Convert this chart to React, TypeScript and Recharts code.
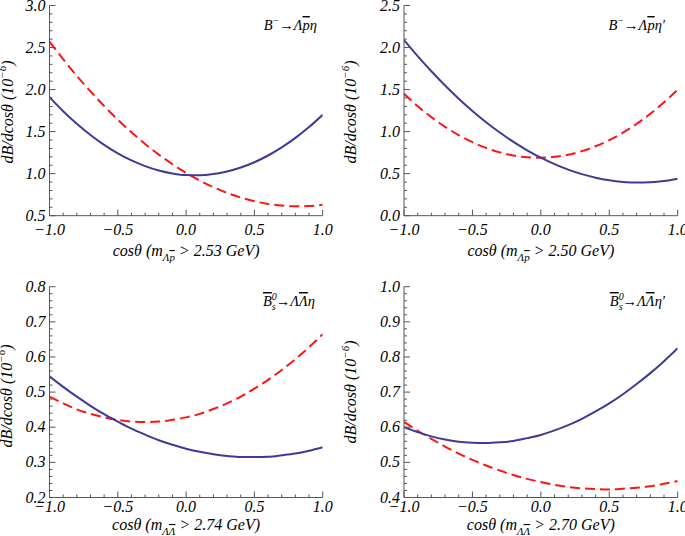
import React from 'react';
import { LineChart, Line, XAxis, YAxis, Label } from 'recharts';

// ---------- data ----------
const cosTheta = [-1.0, -0.9, -0.8, -0.7, -0.6, -0.5, -0.4, -0.3, -0.2, -0.1, 0.0, 0.1, 0.2, 0.3, 0.4, 0.5, 0.6, 0.7, 0.8, 0.9, 1.0];

const bmLapEtaSolid = [1.910, 1.743, 1.593, 1.459, 1.342, 1.241, 1.157, 1.089, 1.037, 1.002, 0.983, 0.981, 0.995, 1.026, 1.073, 1.136, 1.216, 1.312, 1.425, 1.554, 1.700];
const bmLapEtaDashed = [2.570, 2.361, 2.163, 1.978, 1.804, 1.642, 1.492, 1.353, 1.227, 1.112, 1.009, 0.918, 0.839, 0.771, 0.716, 0.672, 0.640, 0.620, 0.611, 0.615, 0.630];

const bmLapEtapSolid = [2.090, 1.898, 1.718, 1.549, 1.392, 1.246, 1.112, 0.989, 0.878, 0.778, 0.690, 0.613, 0.548, 0.494, 0.452, 0.421, 0.402, 0.394, 0.398, 0.413, 0.440];
const bmLapEtapDashed = [1.450, 1.303, 1.172, 1.057, 0.958, 0.874, 0.806, 0.753, 0.716, 0.695, 0.690, 0.700, 0.726, 0.768, 0.826, 0.899, 0.988, 1.092, 1.212, 1.348, 1.500];

const bsLLEtaSolid = [0.545, 0.515, 0.487, 0.461, 0.437, 0.416, 0.396, 0.379, 0.363, 0.350, 0.339, 0.330, 0.323, 0.318, 0.315, 0.315, 0.316, 0.320, 0.325, 0.333, 0.343];
const bsLLEtaDashed = [0.487, 0.468, 0.451, 0.438, 0.428, 0.421, 0.416, 0.415, 0.416, 0.421, 0.428, 0.438, 0.452, 0.468, 0.487, 0.510, 0.535, 0.563, 0.594, 0.628, 0.665];

const bsLLEtapSolid = [0.600, 0.586, 0.574, 0.565, 0.559, 0.556, 0.555, 0.557, 0.561, 0.569, 0.578, 0.591, 0.606, 0.624, 0.645, 0.668, 0.694, 0.723, 0.754, 0.788, 0.825];
const bsLLEtapDashed = [0.615, 0.590, 0.567, 0.545, 0.525, 0.507, 0.491, 0.477, 0.464, 0.453, 0.444, 0.436, 0.430, 0.426, 0.424, 0.423, 0.425, 0.428, 0.432, 0.439, 0.447];

const xMajorTicks = [-1.0, -0.5, 0.0, 0.5, 1.0];
const yMajorTicks1 = [0.5, 1.0, 1.5, 2.0, 2.5, 3.0];
const yMajorTicks2 = [0.0, 0.5, 1.0, 1.5, 2.0, 2.5];
const yMajorTicks3 = [0.2, 0.3, 0.4, 0.5, 0.6, 0.7, 0.8];
const yMajorTicks4 = [0.4, 0.5, 0.6, 0.7, 0.8, 0.9, 1.0];

const massCuts = ['2.53', '2.50', '2.74', '2.70'];

// ---------- styles ----------
const FONT = "'Liberation Serif', Tinos, 'Times New Roman', serif";
const FRAME = '#555555';
const BLUE = '#3d3b98';
const RED = '#ff1414';
const INK = '#000000';
const txt = { fontFamily: FONT, fontStyle: 'italic' as const };
const bar = { textDecoration: 'overline' };

const range = (a: number, b: number, step: number) => {
  const out: number[] = [];
  const n = Math.round((b - a) / step);
  for (let i = 0; i <= n; i++) out.push(Math.round((a + i * step) * 1000) / 1000);
  return out;
};

const fmt = (v: number) => (v < 0 ? '\u2212' + Math.abs(v).toFixed(1) : v.toFixed(1));

type Side = 'bottom' | 'top' | 'left' | 'right';
const tickRenderer = (side: Side, majors: number[], labelDy = 19) => (props: any) => {
  const { x, y, payload } = props;
  const v = Number(payload.value);
  const major = majors.some((m) => Math.abs(m - v) < 1e-6);
  const len = major ? 6 : 3;
  let x2 = x;
  let y2 = y;
  if (side === 'bottom') y2 = y - len;
  else if (side === 'top') y2 = y + len;
  else if (side === 'left') x2 = x + len;
  else x2 = x - len;
  return (
    <g>
      <line x1={x} y1={y} x2={x2} y2={y2} stroke={FRAME} strokeWidth={1} />
      {major && side === 'bottom' && (
        <text x={x} y={y + labelDy} textAnchor="middle" style={{ ...txt, fontSize: 16 }} fill={INK}>
          {fmt(v)}
        </text>
      )}
      {major && side === 'left' && (
        <text x={x - 4} y={y + 5} textAnchor="end" style={{ ...txt, fontSize: 16 }} fill={INK}>
          {fmt(v)}
        </text>
      )}
    </g>
  );
};

type PanelCfg = {
  left: number;
  top: number;
  width: number;
  height: number;
  margin: { top: number; right: number; bottom: number; left: number };
  xAxisH: number;
  tickDy: number;
  yDomain: [number, number];
  yMajor: number[];
  yStep: number;
  solid: number[];
  dashed: number[];
  cut: string;
  lambdaBar: boolean;
  bs: boolean;
  prime: boolean;
  ylab: { x: number; y: number };
  xlabY: number;
  note: { x: number; y: number };
};

const panels: PanelCfg[] = [
  {
    left: 0, top: 0, width: 340, height: 268,
    margin: { top: 5.5, right: 17.3, bottom: 12.3, left: 4.5 }, xAxisH: 40, tickDy: 19,
    yDomain: [0.5, 3.0], yMajor: yMajorTicks1, yStep: 0.1,
    solid: bmLapEtaSolid, dashed: bmLapEtaDashed, cut: massCuts[0],
    lambdaBar: false, bs: false, prime: false,
    ylab: { x: 13, y: 112 }, xlabY: 256, note: { x: 317, y: 30 },
  },
  {
    left: 340, top: 0, width: 345, height: 268,
    margin: { top: 5.5, right: 7.3, bottom: 12.3, left: 19 }, xAxisH: 40, tickDy: 19,
    yDomain: [0.0, 2.5], yMajor: yMajorTicks2, yStep: 0.1,
    solid: bmLapEtapSolid, dashed: bmLapEtapDashed, cut: massCuts[1],
    lambdaBar: false, bs: false, prime: true,
    ylab: { x: 16, y: 112 }, xlabY: 256, note: { x: 325, y: 30 },
  },
  {
    left: 0, top: 268, width: 340, height: 268,
    margin: { top: 18.7, right: 17.3, bottom: 8.5, left: 4.5 }, xAxisH: 30, tickDy: 14,
    yDomain: [0.2, 0.8], yMajor: yMajorTicks3, yStep: 0.02,
    solid: bsLLEtaSolid, dashed: bsLLEtaDashed, cut: massCuts[2],
    lambdaBar: true, bs: true, prime: false,
    ylab: { x: 12, y: 128 }, xlabY: 262, note: { x: 315, y: 38 },
  },
  {
    left: 340, top: 268, width: 345, height: 268,
    margin: { top: 18.7, right: 7.3, bottom: 8.5, left: 19 }, xAxisH: 30, tickDy: 14,
    yDomain: [0.4, 1.0], yMajor: yMajorTicks4, yStep: 0.02,
    solid: bsLLEtapSolid, dashed: bsLLEtapDashed, cut: massCuts[3],
    lambdaBar: true, bs: true, prime: true,
    ylab: { x: 16, y: 124 }, xlabY: 262, note: { x: 325, y: 38 },
  },
];

const Panel = ({ cfg }: { cfg: PanelCfg }) => {
  const data = cosTheta.map((c, i) => ({ c, solid: cfg.solid[i], dashed: cfg.dashed[i] }));
  const xTicks = range(-1, 1, 0.1);
  const yTicks = range(cfg.yDomain[0], cfg.yDomain[1], cfg.yStep);
  const plotCx = cfg.margin.left + 45 + (cfg.width - cfg.margin.left - 45 - cfg.margin.right) / 2;
  const primeMark = cfg.prime ? '\u2032' : '';

  const yTitleAndNote = () => (
    <g>
      <text
        transform={`translate(${cfg.ylab.x},${cfg.ylab.y}) rotate(-90)`}
        textAnchor="middle"
        style={{ ...txt, fontSize: 16 }}
        fill={INK}
      >
        dB/dcosθ (10
        <tspan dy={-7} style={{ fontSize: 11 }}>{'\u2212'}6</tspan>
        <tspan dy={7}>)</tspan>
      </text>
      <text x={cfg.note.x} y={cfg.note.y} textAnchor="end" style={{ ...txt, fontSize: 14.5 }} fill={INK}>
        {cfg.bs ? (
          <>
            <tspan style={bar}>B</tspan>
            <tspan dy={-6} style={{ fontSize: 10 }}>0</tspan>
            <tspan dx={-5} dy={10} style={{ fontSize: 10 }}>s</tspan>
            <tspan dy={-4}>{'\u2192\u039B'}</tspan>
            <tspan style={bar}>{'\u039B'}</tspan>
            <tspan>{'\u03B7' + primeMark}</tspan>
          </>
        ) : (
          <>
            <tspan>B</tspan>
            <tspan dy={-6} style={{ fontSize: 10 }}>{'\u2212'}</tspan>
            <tspan dy={6}>{'\u2192\u039B'}</tspan>
            <tspan style={bar}>p</tspan>
            <tspan>{'\u03B7' + primeMark}</tspan>
          </>
        )}
      </text>
    </g>
  );

  const xTitle = () => (
    <text x={plotCx} y={cfg.xlabY} textAnchor="middle" style={{ ...txt, fontSize: 16 }} fill={INK}>
      cosθ (m
      <tspan dy={5} style={{ fontSize: 11 }}>{'\u039B'}</tspan>
      <tspan style={{ ...bar, fontSize: 11 }}>{cfg.lambdaBar ? '\u039B' : 'p'}</tspan>
      <tspan dy={-5}>{` > ${cfg.cut} GeV)`}</tspan>
    </text>
  );

  return (
    <div style={{ position: 'absolute', left: cfg.left, top: cfg.top, width: cfg.width, height: cfg.height }}>
      <LineChart width={cfg.width} height={cfg.height} data={data} margin={cfg.margin}>
        <XAxis
          dataKey="c"
          type="number"
          domain={[-1, 1]}
          ticks={xTicks}
          interval={0}
          height={cfg.xAxisH}
          tickSize={0}
          tickMargin={0}
          tickLine={false}
          axisLine={{ stroke: FRAME, strokeWidth: 1 }}
          tick={tickRenderer('bottom', xMajorTicks, cfg.tickDy)}
          allowDataOverflow
        >
          <Label content={xTitle} />
        </XAxis>
        <XAxis
          xAxisId="top"
          dataKey="c"
          type="number"
          orientation="top"
          domain={[-1, 1]}
          ticks={xTicks}
          interval={0}
          height={0}
          tickSize={0}
          tickMargin={0}
          tickLine={false}
          axisLine={{ stroke: FRAME, strokeWidth: 1 }}
          tick={tickRenderer('top', xMajorTicks)}
          allowDataOverflow
        />
        <YAxis
          type="number"
          domain={cfg.yDomain}
          ticks={yTicks}
          interval={0}
          width={45}
          tickSize={0}
          tickMargin={0}
          tickLine={false}
          axisLine={{ stroke: FRAME, strokeWidth: 1 }}
          tick={tickRenderer('left', cfg.yMajor)}
          allowDataOverflow
        >
          <Label content={yTitleAndNote} />
        </YAxis>
        <YAxis
          yAxisId="right"
          orientation="right"
          type="number"
          domain={cfg.yDomain}
          ticks={yTicks}
          interval={0}
          width={0}
          tickSize={0}
          tickMargin={0}
          tickLine={false}
          axisLine={{ stroke: FRAME, strokeWidth: 1 }}
          tick={tickRenderer('right', cfg.yMajor)}
          allowDataOverflow
        />
        <Line
          type="monotone"
          dataKey="dashed"
          stroke={RED}
          strokeWidth={2}
          strokeDasharray="10 5"
          dot={false}
          isAnimationActive={false}
        />
        <Line
          type="monotone"
          dataKey="solid"
          stroke={BLUE}
          strokeWidth={2}
          dot={false}
          isAnimationActive={false}
        />
      </LineChart>
    </div>
  );
}

export default function App() {
  return (
    <div style={{ position: 'absolute', left: 0, top: 0, width: 685, height: 536, background: '#ffffff', overflow: 'hidden' }}>
      {panels.map((p, i) => (
        <Panel key={i} cfg={p} />
      ))}
    </div>
  );
}
